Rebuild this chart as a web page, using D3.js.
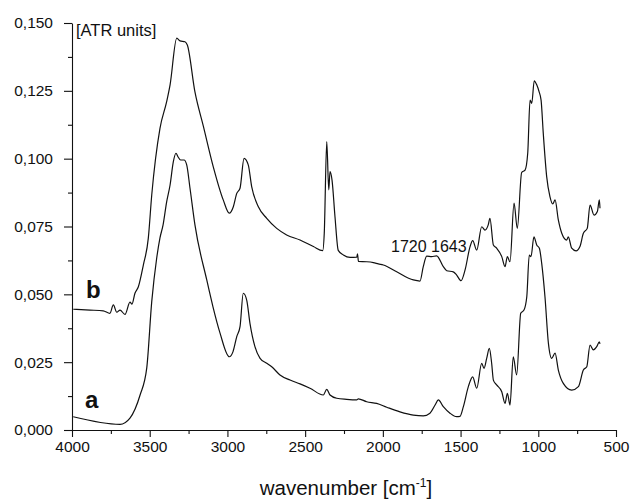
<!DOCTYPE html>
<html>
<head>
<meta charset="utf-8">
<script src="https://cdn.jsdelivr.net/npm/d3@7"></script>
<style>
  body { margin: 0; background: #fff; }
  text { font-family: "Liberation Sans", Arial, Helvetica, sans-serif; fill: #111; }
</style>
</head>
<body>
<script>
// spectrum a (lower)
var waveA = [3992, 3691, 3627, 3562, 3519, 3487, 3455, 3434, 3414, 3391, 3369, 3348, 3331, 3318, 3301, 3279, 3262, 3241, 3209,
  3133, 3093, 3048, 2988, 2964, 2940, 2919, 2898, 2876, 2855, 2823, 2790, 2747, 2715, 2662, 2597, 2533, 2469, 2383, 2361, 2340,
  2297, 2233, 2168, 2158, 2104, 2040, 1975, 1890, 1804, 1740, 1697, 1664, 1643, 1611, 1568, 1525, 1504, 1482, 1450, 1422, 1396,
  1364, 1349, 1332, 1315, 1300, 1289, 1268, 1235, 1214, 1199, 1182, 1161, 1139, 1113, 1092, 1074, 1058, 1047, 1028, 1010, 993,
  978, 957, 935, 914, 892, 871, 839, 785, 742, 710, 688, 667, 646, 624, 607, 603];
var absA = [0.0049, 0.0021, 0.0044, 0.0129, 0.0229, 0.0473, 0.0634, 0.0708, 0.0756, 0.0841, 0.0903, 0.0989, 0.1020, 0.1007, 0.0995, 0.0995, 0.0977, 0.0892, 0.0756,
  0.0553, 0.0454, 0.0358, 0.0270, 0.0289, 0.0344, 0.0381, 0.0504, 0.0479, 0.0393, 0.0307, 0.0264, 0.0246, 0.0233, 0.0203, 0.0184, 0.0170, 0.0154, 0.0129, 0.0150, 0.0129,
  0.0117, 0.0113, 0.0111, 0.0115, 0.0104, 0.0098, 0.0084, 0.0067, 0.0055, 0.0052, 0.0062, 0.0092, 0.0111, 0.0086, 0.0062, 0.0049, 0.0050, 0.0086, 0.0160, 0.0196, 0.0154,
  0.0246, 0.0227, 0.0264, 0.0301, 0.0246, 0.0184, 0.0166, 0.0141, 0.0098, 0.0135, 0.0092, 0.0270, 0.0203, 0.0430, 0.0442, 0.0491, 0.0645, 0.0639, 0.0712, 0.0682, 0.0670,
  0.0614, 0.0491, 0.0320, 0.0264, 0.0283, 0.0221, 0.0172, 0.0147, 0.0160, 0.0221, 0.0233, 0.0313, 0.0295, 0.0307, 0.0325, 0.0317];

// spectrum b (upper)
var waveB = [3992, 3884, 3799, 3756, 3734, 3712, 3691, 3659, 3627, 3614, 3595, 3573, 3541, 3509, 3487, 3434, 3391, 3369, 3326, 3305,
  3273, 3258, 3209, 3155, 3091, 3027, 2988, 2962, 2940, 2919, 2893, 2866, 2844, 2801, 2747, 2683, 2619, 2533, 2447, 2387, 2377, 2361,
  2348, 2340, 2327, 2308, 2287, 2254, 2211, 2168, 2163, 2157, 2104, 2061, 2029, 1997, 1911, 1804, 1761, 1740, 1718, 1686, 1654, 1611,
  1589, 1547, 1525, 1497, 1471, 1439, 1422, 1396, 1364, 1343, 1322, 1311, 1289, 1268, 1235, 1214, 1199, 1182, 1156, 1135, 1107, 1085,
  1068, 1053, 1042, 1026, 1010, 995, 982, 968, 946, 925, 907, 892, 871, 849, 817, 807, 785, 757, 732, 710, 685, 667, 641, 620, 607, 603];
var absB = [0.0445, 0.0442, 0.0439, 0.0430, 0.0461, 0.0434, 0.0442, 0.0426, 0.0471, 0.0464, 0.0504, 0.0528, 0.0608, 0.0707, 0.0866, 0.1112, 0.1210, 0.1272, 0.1444, 0.1434,
  0.1431, 0.1419, 0.1246, 0.1120, 0.0970, 0.0848, 0.0799, 0.0823, 0.0872, 0.0891, 0.1001, 0.0977, 0.0897, 0.0823, 0.0780, 0.0743, 0.0719, 0.0700, 0.0676, 0.0661, 0.0725, 0.1063,
  0.0885, 0.0952, 0.0921, 0.0786, 0.0662, 0.0645, 0.0636, 0.0637, 0.0649, 0.0621, 0.0620, 0.0617, 0.0612, 0.0608, 0.0583, 0.0553, 0.0549, 0.0602, 0.0641, 0.0639, 0.0642, 0.0602,
  0.0587, 0.0583, 0.0571, 0.0550, 0.0590, 0.0676, 0.0698, 0.0663, 0.0749, 0.0737, 0.0756, 0.0780, 0.0682, 0.0670, 0.0639, 0.0602, 0.0639, 0.0620, 0.0836, 0.0743, 0.0949, 0.0958,
  0.1020, 0.1216, 0.1204, 0.1287, 0.1272, 0.1247, 0.1216, 0.1094, 0.0934, 0.0860, 0.0833, 0.0848, 0.0774, 0.0725, 0.0700, 0.0712, 0.0670, 0.0660, 0.0676, 0.0725, 0.0743, 0.0829, 0.0792, 0.0805, 0.0848, 0.0817];

var xTicks = [4000, 3500, 3000, 2500, 2000, 1500, 1000, 500];
var xMinorTicks = [3750, 3250, 2750, 2250, 1750, 1250, 750];
var yTicks = [0, 0.025, 0.05, 0.075, 0.1, 0.125, 0.15];
var yMinorTicks = [0.0125, 0.0375, 0.0625, 0.0875, 0.1125, 0.1375];

var width = 633, height = 501;
var x = d3.scaleLinear().domain([4000, 500]).range([72, 616]);
var y = d3.scaleLinear().domain([0, 0.15]).range([430, 23]);

var svg = d3.select("body").append("svg")
  .attr("width", width)
  .attr("height", height);

var comma = function (d) { return d3.format(".3f")(d).replace(".", ","); };

// x axis
var gx = svg.append("g").attr("transform", "translate(0," + y(0) + ")");
gx.call(d3.axisBottom(x).tickValues(xTicks).tickSize(7).tickSizeOuter(0).tickPadding(4).tickFormat(d3.format("d")));
gx.append("g").call(d3.axisBottom(x).tickValues(xMinorTicks).tickSize(4).tickFormat(""))
  .select(".domain").remove();

// y axis
var gy = svg.append("g").attr("transform", "translate(" + x(4000) + ",0)");
gy.call(d3.axisLeft(y).tickValues(yTicks).tickSize(8).tickSizeOuter(0).tickPadding(11).tickFormat(comma));
gy.append("g").call(d3.axisLeft(y).tickValues(yMinorTicks).tickSize(4).tickFormat(""))
  .select(".domain").remove();

svg.selectAll(".tick text")
  .style("font-size", "15.5px")
  .style("font-family", "'Liberation Sans', Arial, sans-serif")
  .attr("fill", "#111");
svg.selectAll(".domain, .tick line").attr("stroke", "#111").attr("stroke-width", 1.1);

var line = d3.line()
  .curve(d3.curveMonotoneX)
  .x(function (d) { return x(d[0]); })
  .y(function (d) { return y(d[1]); });

var series = [
  { name: "a", pts: d3.zip(waveA, absA) },
  { name: "b", pts: d3.zip(waveB, absB) }
];

svg.selectAll("path.spectrum")
  .data(series)
  .enter()
  .append("path")
  .attr("class", "spectrum")
  .attr("d", function (d) { return line(d.pts); })
  .attr("fill", "none")
  .attr("stroke", "#111")
  .attr("stroke-width", 1.2)
  .attr("stroke-linejoin", "round");

// labels
svg.append("text").attr("x", 76).attr("y", 36).style("font-size", "16.5px").text("[ATR units]");
svg.append("text").attr("x", 86).attr("y", 298).style("font-size", "24px").style("font-weight", "bold").text("b");
svg.append("text").attr("x", 85).attr("y", 408).style("font-size", "24px").style("font-weight", "bold").text("a");
svg.append("text").attr("x", 391).attr("y", 252).style("font-size", "16px").text("1720 1643");

var xl = svg.append("text").attr("x", 346).attr("y", 495).attr("text-anchor", "middle").style("font-size", "20.5px");
xl.append("tspan").text("wavenumber [cm");
xl.append("tspan").attr("dy", -8).style("font-size", "12px").text("-1");
xl.append("tspan").attr("dy", 8).text("]");
</script>
</body>
</html>
